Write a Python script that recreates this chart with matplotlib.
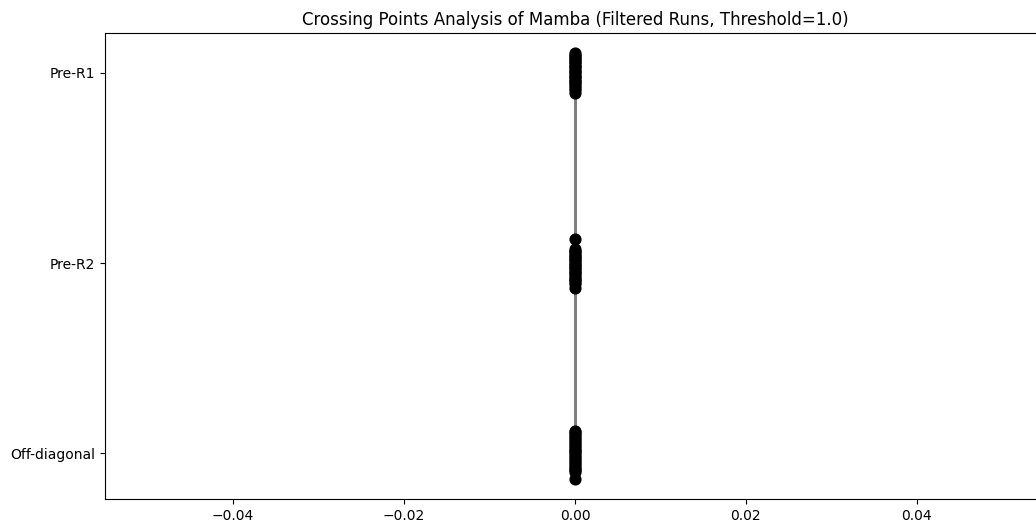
import matplotlib
import matplotlib.pyplot as plt

matplotlib.use('agg')

categories = ['Off-diagonal', 'Pre-R2', 'Pre-R1']

# crossing point x values per run (all runs cross at 0.0)
crossing_x = [0.0] * 24

# vertical jitter used to separate runs inside each category row
jitter_pre_r1 = [0.105, 0.095, 0.088, 0.080, 0.071, 0.063, 0.055, 0.046, 0.038,
                 0.030, 0.021, 0.012, 0.004, -0.005, -0.014, -0.022, -0.031,
                 -0.040, -0.049, -0.058, -0.067, -0.078, -0.090, -0.105]
jitter_pre_r2 = [0.126, 0.072, 0.064, 0.056, 0.048, 0.040, 0.031, 0.023, 0.015,
                 0.006, -0.002, -0.010, -0.019, -0.027, -0.036, -0.045, -0.054,
                 -0.063, -0.072, -0.081, -0.090, -0.100, -0.110, -0.130]
jitter_off_diag = [0.120, 0.110, 0.100, 0.090, 0.080, 0.070, 0.060, 0.050, 0.040,
                   0.030, 0.020, 0.010, 0.000, -0.010, -0.020, -0.030, -0.040,
                   -0.050, -0.060, -0.070, -0.080, -0.090, -0.100, -0.133]

fig = plt.figure(figsize=(10.36, 5.27), dpi=100)
ax = fig.add_axes([0.1013, 0.0531, 0.9074, 0.8843])

for i, x in enumerate(crossing_x):
    ys = [2 + jitter_pre_r1[i], 1 + jitter_pre_r2[i], 0 + jitter_off_diag[i]]
    ax.plot([x, x, x], ys, color='gray', linewidth=2, zorder=1)

for row, jit in enumerate([jitter_off_diag, jitter_pre_r2, jitter_pre_r1]):
    ax.scatter(crossing_x, [row + j for j in jit], color='black', s=60, zorder=2)

ax.set_yticks(range(len(categories)))
ax.set_yticklabels(categories)
ax.set_ylim(-0.24, 2.21)
ax.set_xlim(-0.055, 0.055)
ax.set_title('Crossing Points Analysis of Mamba (Filtered Runs, Threshold=1.0)')

fig.savefig('out.png', dpi=100)
